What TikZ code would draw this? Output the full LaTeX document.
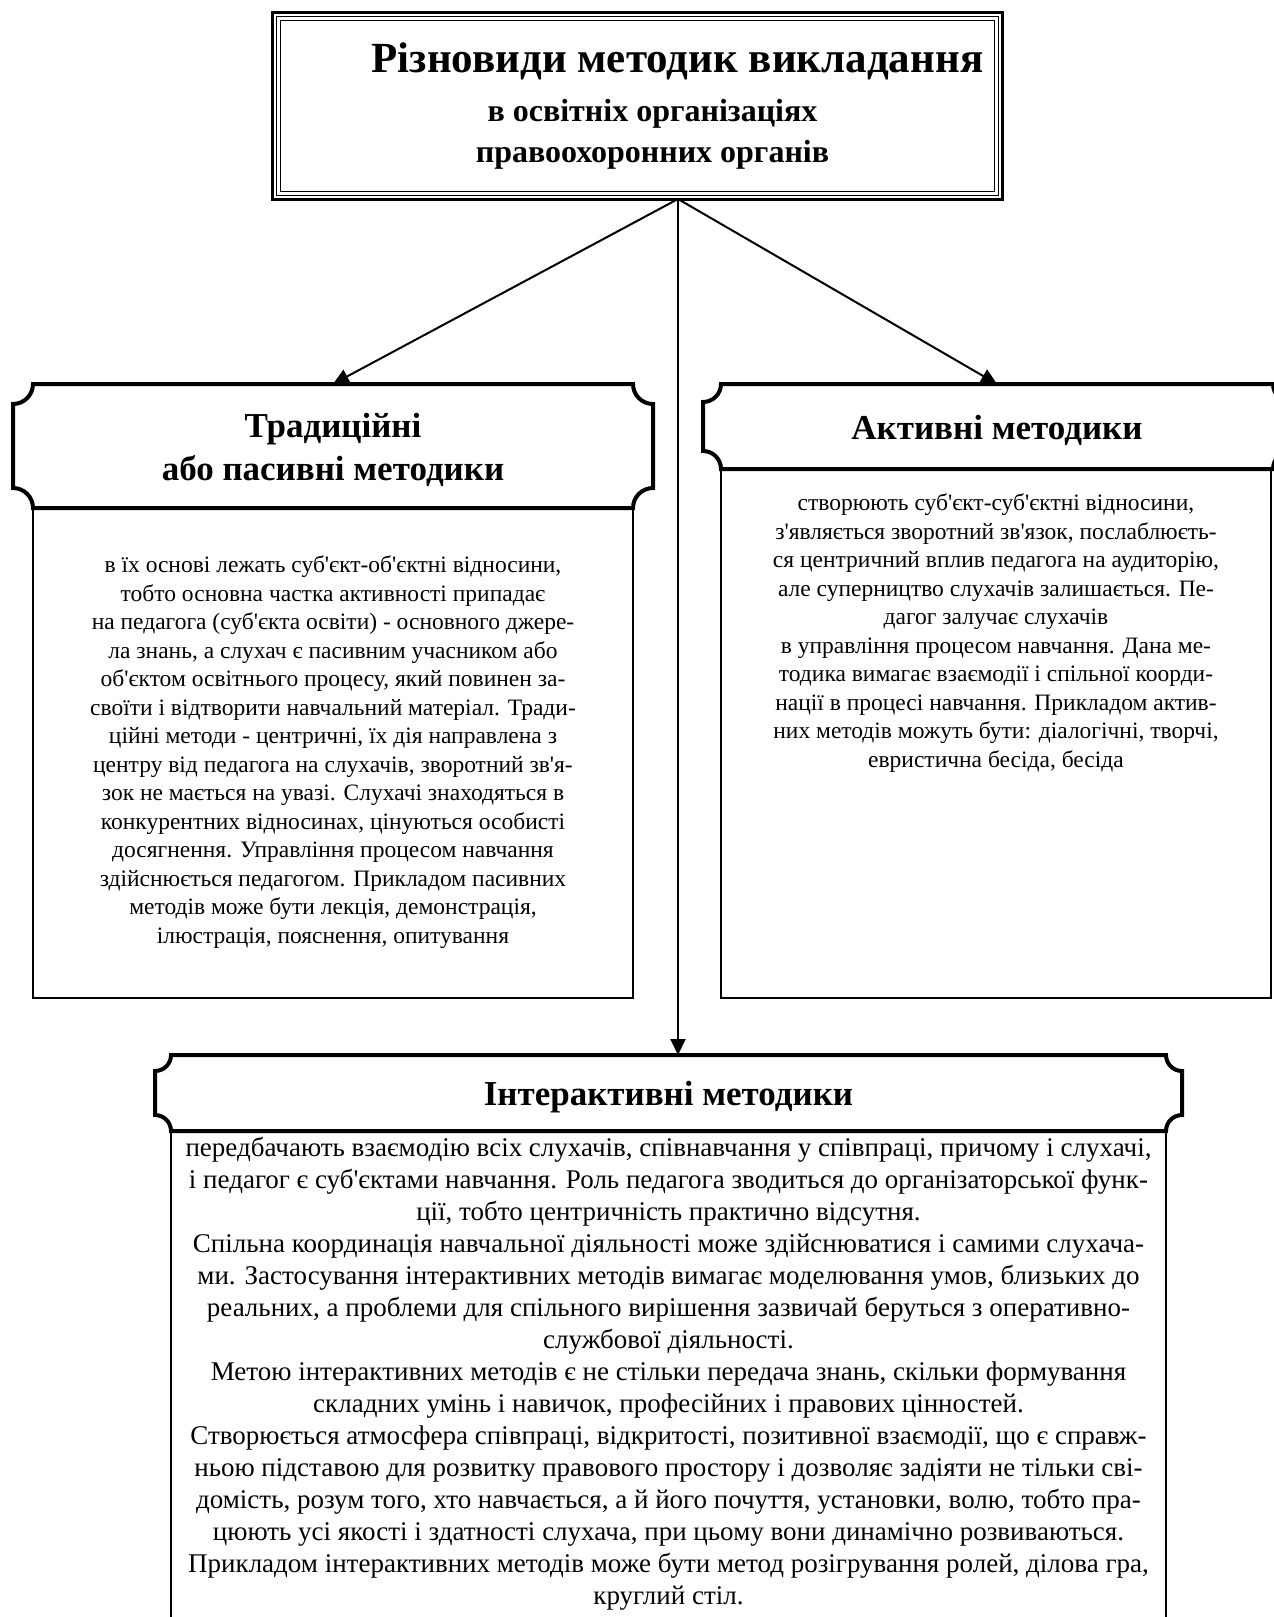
\documentclass[tikz,border=0pt]{standalone}
\usepackage{fontspec}
\setmainfont{Liberation Serif}[Ligatures=TeXOff]
\usetikzlibrary{arrows.meta}
\newcommand\notchbox[6][]{%
  \draw[#1] ({#2+#6},#3) -- ({#4-#6},#3)
    .. controls ({#4-#6},{#3+0.552*#6}) and ({#4-0.552*#6},{#3+#6}) .. (#4,{#3+#6})
    -- (#4,{#5-#6})
    .. controls ({#4-0.552*#6},{#5-#6}) and ({#4-#6},{#5-0.552*#6}) .. ({#4-#6},#5)
    -- ({#2+#6},#5)
    .. controls ({#2+#6},{#5-0.552*#6}) and ({#2+0.552*#6},{#5-#6}) .. (#2,{#5-#6})
    -- (#2,{#3+#6})
    .. controls ({#2+0.552*#6},{#3+#6}) and ({#2+#6},{#3+0.552*#6}) .. ({#2+#6},#3)
    -- cycle;}
\begin{document}
\begin{tikzpicture}[x=1pt,y=-1pt,
  conn/.style={line width=2pt, -{Triangle[length=16pt,width=15pt]}},
  hdrline/.style={line width=4pt, fill=white},
  bodybox/.style={line width=2pt},
  hdrtext/.style={font=\fontsize{35}{43}\selectfont\bfseries, align=center, inner sep=0pt, outer sep=0pt},
  bodytext/.style={font=\fontsize{23.5}{28.5}\selectfont, align=center, inner sep=0pt, outer sep=0pt, anchor=north},
  bigtext/.style={font=\fontsize{27}{32}\selectfont, align=center, inner sep=0pt, outer sep=0pt, anchor=north}
]
\useasboundingbox (0,0) rectangle (1274,1617);
\fill[white] (0,0) rectangle (1274,1617);
\clip (0,0) rectangle (1274,1617);

% title box
\node[font=\fontsize{32}{41}\selectfont\bfseries, align=center, inner sep=0pt, outer sep=0pt,
      minimum width=733pt, minimum height=190pt] (title) at (637.5,106)
  {\hspace*{80pt}{\fontsize{43}{49}\selectfont Різновиди методик викладання}\\[8.5pt]
   \hspace*{30pt}в освітніх організаціях\\
   \hspace*{30pt}правоохоронних органів};
\draw[line width=3pt] ([shift={(1.5,1.5)}]title.north west) rectangle ([shift={(-1.5,-1.5)}]title.south east);
\draw[line width=1.2pt] ([shift={(5.5,5.5)}]title.north west) rectangle ([shift={(-5.5,-5.5)}]title.south east);
\draw[line width=1.2pt] ([shift={(9.5,9.5)}]title.north west) rectangle ([shift={(-9.5,-9.5)}]title.south east);
\coordinate (src) at (678,199);

% body boxes
\draw[bodybox] (33,508) rectangle (633,998);
\draw[bodybox] (721,469) rectangle (1271,998);
\draw[bodybox] (171,1131) rectangle (1166,1660);

% headers
\notchbox[hdrline]{13}{384}{653}{508}{20}
\notchbox[hdrline]{703}{384}{1291}{469}{18}
\notchbox[hdrline]{155}{1055}{1182}{1131}{16}
\node[hdrtext, minimum width=640pt, minimum height=132pt] (hdrL) at (333,450) {Традиційні\\або пасивні методики};
\node[hdrtext, minimum width=588pt, minimum height=93pt] (hdrR) at (997,430.5) {Активні методики};
\node[hdrtext, minimum width=1027pt, minimum height=84pt] (hdrB) at (668.5,1097) {Інтерактивні методики};

% connectors
\draw[conn] (src) -- (hdrL.north);
\draw[conn] (src) -- (hdrR.north);
\draw[conn] (src) -- (src |- hdrB.north);

% texts
\node[bodytext] (txtL) at (333,556) {в їх основі лежать суб'єкт-об'єктні відносини,\\
тобто основна частка активності припадає\\
на педагога (суб'єкта освіти) - основного джере-\\
ла знань, а слухач є пасивним учасником або\\
об'єктом освітнього процесу, який повинен за-\\
своїти і відтворити навчальний матеріал. Тради-\\
ційні методи - центричні, їх дія направлена з\\
центру від педагога на слухачів, зворотний зв'я-\\
зок не мається на увазі. Слухачі знаходяться в\\
конкурентних відносинах, цінуються особисті\\
досягнення. Управління процесом навчання\\
здійснюється педагогом. Прикладом пасивних\\
методів може бути лекція, демонстрація,\\
ілюстрація, пояснення, опитування};

\node[bodytext] (txtR) at (996,494) {створюють суб'єкт-суб'єктні відносини,\\
з'являється зворотний зв'язок, послаблюєть-\\
ся центричний вплив педагога на аудиторію,\\
але суперництво слухачів залишається. Пе-\\
дагог залучає слухачів\\
в управління процесом навчання. Дана ме-\\
тодика вимагає взаємодії і спільної коорди-\\
нації в процесі навчання. Прикладом актив-\\
них методів можуть бути: діалогічні, творчі,\\
евристична бесіда, бесіда};

\node[bigtext] (txtB) at (668.5,1137) {передбачають взаємодію всіх слухачів, співнавчання у співпраці, причому і слухачі,\\
і педагог є суб'єктами навчання. Роль педагога зводиться до організаторської функ-\\
ції, тобто центричність практично відсутня.\\
Спільна координація навчальної діяльності може здійснюватися і самими слухача-\\
ми. Застосування інтерактивних методів вимагає моделювання умов, близьких до\\
реальних, а проблеми для спільного вирішення зазвичай беруться з оперативно-\\
службової діяльності.\\
Метою інтерактивних методів є не стільки передача знань, скільки формування\\
складних умінь і навичок, професійних і правових цінностей.\\
Створюється атмосфера співпраці, відкритості, позитивної взаємодії, що є справж-\\
ньою підставою для розвитку правового простору і дозволяє задіяти не тільки сві-\\
домість, розум того, хто навчається, а й його почуття, установки, волю, тобто пра-\\
цюють усі якості і здатності слухача, при цьому вони динамічно розвиваються.\\
Прикладом інтерактивних методів може бути метод розігрування ролей, ділова гра,\\
круглий стіл.};
\end{tikzpicture}
\end{document}
